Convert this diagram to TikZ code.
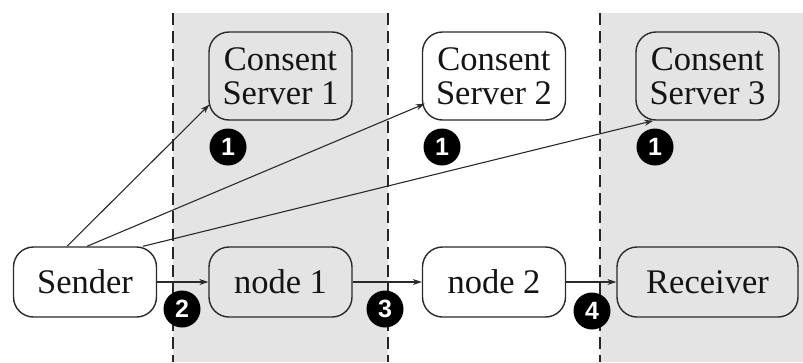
\documentclass[tikz,border=0pt]{standalone}
\usepackage{fontspec}
\setmainfont{Liberation Serif}
\newfontfamily\badgefont{Liberation Sans}[Scale=1]
\usetikzlibrary{arrows.meta,calc}
\definecolor{zone}{HTML}{E4E4E4}
\definecolor{edge}{HTML}{2A2A2A}
\tikzset{
  box/.style={draw=edge, line width=1.4pt, rounded corners=20pt, inner sep=0pt,
    minimum width=143pt, minimum height=70pt, align=center, text=black!92,
    font=\fontsize{34.5}{34}\selectfont},
  server/.style={box, minimum height=88pt},
  shaded/.style={fill=zone},
  plain/.style={fill=white},
  badge/.style={circle, fill=black, inner sep=0pt, minimum size=37pt, text=white,
    font=\badgefont\bfseries\fontsize{25}{25}\selectfont},
  zoneline/.style={line width=1.8pt, dash pattern=on 12pt off 6pt, draw=black!85},
  msg/.style={draw=edge, line width=1.1pt, -{Stealth[length=9pt,width=6pt]}}
}
\begin{document}
\begin{tikzpicture}[x=1pt,y=-1pt]
  \useasboundingbox (0,0) rectangle (803,362);
  % administrative zones
  \fill[zone] (173,13) rectangle (388,362);
  \fill[zone] (600,13) rectangle (803,362);
  \draw[zoneline] (173,13) -- (173,362);
  \draw[zoneline] (388,13) -- (388,362);
  \draw[zoneline] (600,13) -- (600,362);

  % consent servers
  \node[server, shaded] (cs1) at (280.5,76) {Consent\\Server 1};
  \node[server, plain]  (cs2) at (494,76)   {Consent\\Server 2};
  \node[server, shaded] (cs3) at (707.5,76) {Consent\\Server 3};

  % forwarding path
  \node[box, plain]  (snd) at (85,282)    {Sender};
  \node[box, shaded] (n1)  at (280.5,282) {node 1};
  \node[box, plain]  (n2)  at (494,282)   {node 2};
  \node[box, shaded, minimum width=181pt] (rcv) at (707.5,282) {Receiver};

  % consent requests
  \draw[msg] ($(snd.north)+(-18,0)$) -- ($(cs1.south west)+(1,-16)$);
  \draw[msg] ($(snd.north)+(2,0)$)   -- ($(cs2.south west)+(3,-17)$);
  \draw[msg] ($(snd.north)+(58,0)$)  -- ($(cs3.south west)+(18,0)$);

  % data path
  \draw[msg] (snd.east) -- (n1.west);
  \draw[msg] (n1.east)  -- (n2.west);
  \draw[msg] (n2.east)  -- (rcv.west);

  % step markers
  \node[badge] (s1a) at (228,147) {1};
  \node[badge] (s1b) at (442,147) {1};
  \node[badge] (s1c) at (655,147) {1};
  \node[badge] (s2)  at (182,309) {2};
  \node[badge] (s3)  at (385,309) {3};
  \node[badge] (s4)  at (592,311) {4};
\end{tikzpicture}
\end{document}
